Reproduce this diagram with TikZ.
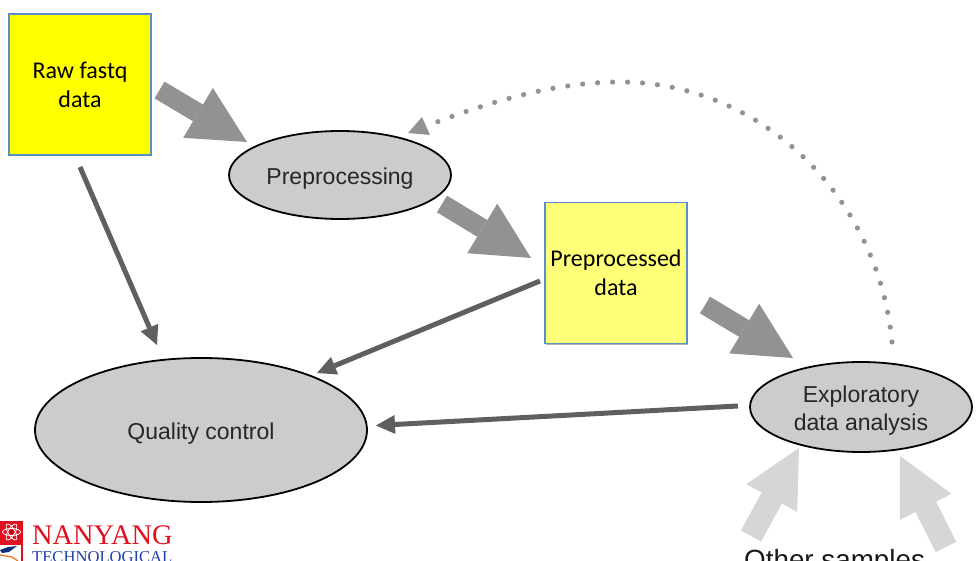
\documentclass[tikz,border=0pt]{standalone}
\usepackage{fontspec}
\setmainfont{Liberation Sans}
\newfontfamily\calib{Carlito}
\newfontfamily\logoserif{Liberation Serif}
\usetikzlibrary{arrows.meta,shapes.geometric,shadows}
\definecolor{boxblue}{HTML}{5B8FC9}
\definecolor{pureyellow}{HTML}{FFFF00}
\definecolor{softyellow}{HTML}{FFFF78}
\definecolor{ellgrey}{HTML}{CCCCCC}
\definecolor{blockgrey}{HTML}{929292}
\definecolor{lightblock}{HTML}{D6D6D6}
\definecolor{thingrey}{HTML}{5F5F5F}
\definecolor{logored}{HTML}{E0101E}
\definecolor{logoblue}{HTML}{1F3FA8}
\newcommand{\lowerstrut}{\rule{0pt}{23pt}}
\tikzset{
  x=1pt,y=-1pt,
  databox/.style={rectangle,draw=boxblue,line width=1.5pt,minimum width=142pt,minimum height=141pt,inner sep=0pt,align=center,font=\calib\fontsize{24}{29}\selectfont,text=black,drop shadow={shadow xshift=.6pt,shadow yshift=-1.2pt,opacity=.3,fill=black}},
  procell/.style={ellipse,draw=black,line width=1.8pt,fill=ellgrey,inner sep=0pt,align=center,text=black!85,font=\fontsize{23}{28}\selectfont},
  blockarrow/.style={draw=blockgrey,line width=19.5pt,-{Triangle[length=57pt,width=58pt,line width=0pt,fill=blockgrey]}},
  lightarrow/.style={draw=lightblock,line width=23pt,-{Triangle[length=57pt,width=58pt,line width=0pt,fill=lightblock]}},
  thinarrow/.style={draw=thingrey,line width=5pt,-{Triangle[length=19pt,width=19pt,line width=0pt,fill=thingrey]}},
  dotline/.style={draw=blockgrey,line width=5.2pt,line cap=round,dash pattern=on 0pt off 15pt},
}
\begin{document}
\begin{tikzpicture}
\useasboundingbox (0,0) rectangle (979,561);
\clip (0,0) rectangle (979,561);
% nodes
\node[databox,fill=pureyellow] (raw) at (80,84.5) {Raw fastq\\data};
\node[databox,fill=softyellow] (prep) at (616,273) {Preprocessed\\data};
\node[procell,minimum width=222pt,minimum height=88pt] (pp) at (340,175) {\lowerstrut Preprocessing};
\node[procell,minimum width=332pt,minimum height=144pt] (qc) at (201,430) {\lowerstrut Quality control};
\node[procell,minimum width=222pt,minimum height=90pt] (eda) at (861,407) {\lowerstrut Exploratory\\data analysis};
% connector ends
\coordinate (a1) at (159.5,90);  \coordinate (a1e) at (247,142);
\coordinate (a2) at (442,204);   \coordinate (a2e) at (531,258);
\coordinate (a3) at (705,305);   \coordinate (a3e) at (793,358);
\coordinate (b1) at (80,167);    \coordinate (b1e) at (157,345);
\coordinate (b2) at (540,281);   \coordinate (b2e) at (317,373);
\coordinate (b3) at (738,406);   \coordinate (b3e) at (376,425.5);
\coordinate (c1) at (751,536);   \coordinate (c1e) at (799,448);
\coordinate (c2) at (946,547);   \coordinate (c2e) at (900,456);
\coordinate (d0) at (892,342);   \coordinate (d1) at (620,82);   \coordinate (d2) at (437,122);
% block arrows
\draw[blockarrow] (a1) -- (a1e);
\draw[blockarrow] (a2) -- (a2e);
\draw[blockarrow] (a3) -- (a3e);
\draw[lightarrow] (c1) -- (c1e);
\draw[lightarrow] (c2) -- (c2e);
% thin arrows
\draw[thinarrow] (b1) -- (b1e);
\draw[thinarrow] (b2) -- (b2e);
\draw[thinarrow] (b3) -- (b3e);
% dotted return
\draw[dotline] (d0) .. controls (878,195) and (760,82) .. (d1) .. controls (555,82) and (490,102) .. (d2);
\fill[blockgrey] (422,117) -- (408,133) -- (430,135) -- cycle;
% other samples
\node[anchor=base west,inner sep=0pt,font=\fontsize{27.8}{30}\selectfont,text=black!90] (other) at (744,569) {Other samples};
% logo
\fill[logored] (0,521) rectangle (23,545);
\draw[white,line width=.8pt] (11.5,532) ellipse [x radius=9pt,y radius=3.5pt];
\draw[white,line width=.8pt,rotate around={60:(11.5,532)}] (11.5,532) ellipse [x radius=9pt,y radius=3.5pt];
\draw[white,line width=.8pt,rotate around={-60:(11.5,532)}] (11.5,532) ellipse [x radius=9pt,y radius=3.5pt];
\fill[logored!80!black] (11.5,532) circle (2pt);
\fill[logoblue!70!black] (0,550) -- (8,547) -- (17,546) -- (9,552) -- (2,553) -- cycle;
\draw[logored!60!yellow,line width=1.2pt] (0,555) -- (12,557) -- (18,561);
\fill[logored] (21,545) rectangle (23,561);
\node[anchor=base west,inner sep=0pt,text=logoblue,font=\logoserif\fontsize{16.6}{18}\selectfont] (ntu2) at (32,562) {TECHNOLOGICAL};
\node[anchor=base west,inner sep=0pt,text=logored,font=\logoserif\fontsize{28.4}{30}\selectfont] (ntu1) at (32,544) {NANYANG};
\end{tikzpicture}
\end{document}
